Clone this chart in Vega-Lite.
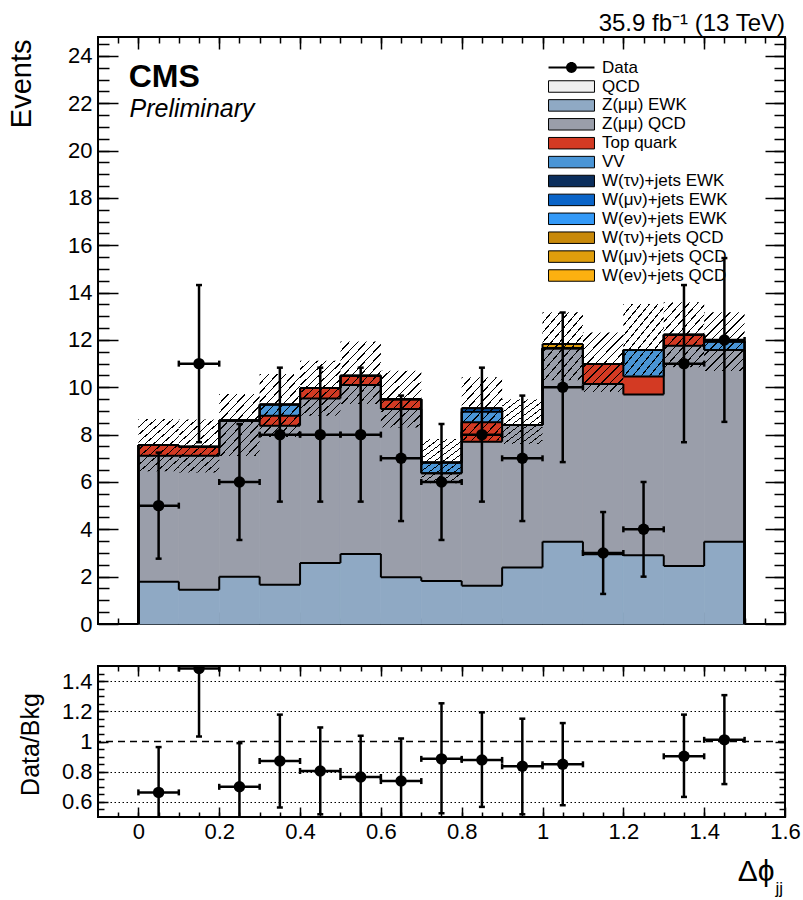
{
  "$schema": "https://vega.github.io/schema/vega-lite/v6.json",
  "background": "white",
  "padding": {"left": 6, "top": 11, "right": 0, "bottom": 0},
  "datasets": {
    "stk": [
      {"lo": 0, "hi": 0.1, "Z(μμ) EWK": 1.79, "Z(μμ) QCD": 5.32, "Top quark": 0.45, "VV": 0, "W(μν)+jets EWK": 0, "W(μν)+jets QCD": 0},
      {"lo": 0.1, "hi": 0.2, "Z(μμ) EWK": 1.45, "Z(μμ) QCD": 5.66, "Top quark": 0.38, "VV": 0, "W(μν)+jets EWK": 0, "W(μν)+jets QCD": 0},
      {"lo": 0.2, "hi": 0.3, "Z(μμ) EWK": 2.0, "Z(μμ) QCD": 6.6, "Top quark": 0, "VV": 0, "W(μν)+jets EWK": 0, "W(μν)+jets QCD": 0},
      {"lo": 0.3, "hi": 0.4, "Z(μμ) EWK": 1.66, "Z(μμ) QCD": 6.72, "Top quark": 0.42, "VV": 0.47, "W(μν)+jets EWK": 0, "W(μν)+jets QCD": 0},
      {"lo": 0.4, "hi": 0.5, "Z(μμ) EWK": 2.58, "Z(μμ) QCD": 6.95, "Top quark": 0.44, "VV": 0, "W(μν)+jets EWK": 0, "W(μν)+jets QCD": 0},
      {"lo": 0.5, "hi": 0.6, "Z(μμ) EWK": 2.96, "Z(μμ) QCD": 7.14, "Top quark": 0.39, "VV": 0, "W(μν)+jets EWK": 0, "W(μν)+jets QCD": 0},
      {"lo": 0.6, "hi": 0.7, "Z(μμ) EWK": 1.97, "Z(μμ) QCD": 7.11, "Top quark": 0.42, "VV": 0, "W(μν)+jets EWK": 0, "W(μν)+jets QCD": 0},
      {"lo": 0.7, "hi": 0.8, "Z(μμ) EWK": 1.82, "Z(μμ) QCD": 4.55, "Top quark": 0, "VV": 0.45, "W(μν)+jets EWK": 0, "W(μν)+jets QCD": 0},
      {"lo": 0.8, "hi": 0.9, "Z(μμ) EWK": 1.62, "Z(μμ) QCD": 6.08, "Top quark": 0.82, "VV": 0.45, "W(μν)+jets EWK": 0.14, "W(μν)+jets QCD": 0},
      {"lo": 0.9, "hi": 1.0, "Z(μμ) EWK": 2.39, "Z(μμ) QCD": 6.02, "Top quark": 0, "VV": 0, "W(μν)+jets EWK": 0, "W(μν)+jets QCD": 0},
      {"lo": 1.0, "hi": 1.1, "Z(μμ) EWK": 3.48, "Z(μμ) QCD": 8.17, "Top quark": 0, "VV": 0, "W(μν)+jets EWK": 0, "W(μν)+jets QCD": 0.18},
      {"lo": 1.1, "hi": 1.2, "Z(μμ) EWK": 2.95, "Z(μμ) QCD": 7.19, "Top quark": 0.84, "VV": 0, "W(μν)+jets EWK": 0, "W(μν)+jets QCD": 0},
      {"lo": 1.2, "hi": 1.3, "Z(μμ) EWK": 2.9, "Z(μμ) QCD": 6.8, "Top quark": 0.76, "VV": 1.12, "W(μν)+jets EWK": 0, "W(μν)+jets QCD": 0},
      {"lo": 1.3, "hi": 1.4, "Z(μμ) EWK": 2.45, "Z(μμ) QCD": 9.31, "Top quark": 0.46, "VV": 0, "W(μν)+jets EWK": 0, "W(μν)+jets QCD": 0},
      {"lo": 1.4, "hi": 1.5, "Z(μμ) EWK": 3.48, "Z(μμ) QCD": 8.1, "Top quark": 0, "VV": 0.35, "W(μν)+jets EWK": 0, "W(μν)+jets QCD": 0}
    ],
    "band": [
      {"lo": 0, "hi": 0.1, "elo": 6.45, "ehi": 8.66},
      {"lo": 0.1, "hi": 0.2, "elo": 6.4, "ehi": 8.64},
      {"lo": 0.2, "hi": 0.3, "elo": 7.1, "ehi": 9.72},
      {"lo": 0.3, "hi": 0.4, "elo": 7.9, "ehi": 10.56},
      {"lo": 0.4, "hi": 0.5, "elo": 8.8, "ehi": 11.12},
      {"lo": 0.5, "hi": 0.6, "elo": 9.3, "ehi": 11.93},
      {"lo": 0.6, "hi": 0.7, "elo": 8.3, "ehi": 10.7},
      {"lo": 0.7, "hi": 0.8, "elo": 5.95, "ehi": 7.82},
      {"lo": 0.8, "hi": 0.9, "elo": 7.75, "ehi": 10.42},
      {"lo": 0.9, "hi": 1.0, "elo": 7.6, "ehi": 9.5},
      {"lo": 1.0, "hi": 1.1, "elo": 10.3, "ehi": 13.17},
      {"lo": 1.1, "hi": 1.2, "elo": 9.8, "ehi": 12.32},
      {"lo": 1.2, "hi": 1.3, "elo": 10.5, "ehi": 13.52},
      {"lo": 1.3, "hi": 1.4, "elo": 10.85, "ehi": 13.59},
      {"lo": 1.4, "hi": 1.5, "elo": 10.69, "ehi": 13.17}
    ],
    "obs": [
      {"x": 0.05, "lo": 0, "hi": 0.1, "n": 5, "nlo": 2.76, "nhi": 7.24},
      {"x": 0.15, "lo": 0.1, "hi": 0.2, "n": 11, "nlo": 7.68, "nhi": 14.32},
      {"x": 0.25, "lo": 0.2, "hi": 0.3, "n": 6, "nlo": 3.55, "nhi": 8.45},
      {"x": 0.35, "lo": 0.3, "hi": 0.4, "n": 8, "nlo": 5.17, "nhi": 10.83},
      {"x": 0.45, "lo": 0.4, "hi": 0.5, "n": 8, "nlo": 5.17, "nhi": 10.83},
      {"x": 0.55, "lo": 0.5, "hi": 0.6, "n": 8, "nlo": 5.17, "nhi": 10.83},
      {"x": 0.65, "lo": 0.6, "hi": 0.7, "n": 7, "nlo": 4.35, "nhi": 9.65},
      {"x": 0.75, "lo": 0.7, "hi": 0.8, "n": 6, "nlo": 3.55, "nhi": 8.45},
      {"x": 0.85, "lo": 0.8, "hi": 0.9, "n": 8, "nlo": 5.17, "nhi": 10.83},
      {"x": 0.95, "lo": 0.9, "hi": 1.0, "n": 7, "nlo": 4.35, "nhi": 9.65},
      {"x": 1.05, "lo": 1.0, "hi": 1.1, "n": 10, "nlo": 6.84, "nhi": 13.16},
      {"x": 1.15, "lo": 1.1, "hi": 1.2, "n": 3, "nlo": 1.27, "nhi": 4.73},
      {"x": 1.25, "lo": 1.2, "hi": 1.3, "n": 4, "nlo": 2.0, "nhi": 6.0},
      {"x": 1.35, "lo": 1.3, "hi": 1.4, "n": 11, "nlo": 7.68, "nhi": 14.32},
      {"x": 1.45, "lo": 1.4, "hi": 1.5, "n": 12, "nlo": 8.54, "nhi": 15.46}
    ],
    "ratio": [
      {"x": 0.05, "lo": 0, "hi": 0.1, "r": 0.663, "rlo": 0.363, "rhi": 0.963},
      {"x": 0.15, "lo": 0.1, "hi": 0.2, "r": 1.483, "rlo": 1.033, "rhi": 1.933},
      {"x": 0.25, "lo": 0.2, "hi": 0.3, "r": 0.7, "rlo": 0.41, "rhi": 0.989},
      {"x": 0.35, "lo": 0.3, "hi": 0.4, "r": 0.871, "rlo": 0.563, "rhi": 1.178},
      {"x": 0.45, "lo": 0.4, "hi": 0.5, "r": 0.805, "rlo": 0.518, "rhi": 1.093},
      {"x": 0.55, "lo": 0.5, "hi": 0.6, "r": 0.765, "rlo": 0.48, "rhi": 1.038},
      {"x": 0.65, "lo": 0.6, "hi": 0.7, "r": 0.738, "rlo": 0.456, "rhi": 1.02},
      {"x": 0.75, "lo": 0.7, "hi": 0.8, "r": 0.885, "rlo": 0.525, "rhi": 1.253},
      {"x": 0.85, "lo": 0.8, "hi": 0.9, "r": 0.878, "rlo": 0.567, "rhi": 1.193},
      {"x": 0.95, "lo": 0.9, "hi": 1.0, "r": 0.836, "rlo": 0.518, "rhi": 1.151},
      {"x": 1.05, "lo": 1.0, "hi": 1.1, "r": 0.849, "rlo": 0.578, "rhi": 1.122},
      {"x": 1.35, "lo": 1.3, "hi": 1.4, "r": 0.902, "rlo": 0.633, "rhi": 1.178},
      {"x": 1.45, "lo": 1.4, "hi": 1.5, "r": 1.011, "rlo": 0.718, "rhi": 1.307}
    ]
  },
  "spacing": 28,
  "resolve": {"scale": {"color": "independent", "shape": "independent"}, "legend": {"color": "independent", "shape": "independent"}},
  "vconcat": [
    {
      "width": 687,
      "height": 587,
      "title": {"text": "35.9 fb⁻¹ (13 TeV)", "anchor": "end", "frame": "group", "fontSize": 24, "font": "Liberation Sans", "fontWeight": "normal", "color": "black", "offset": -19, "baseline": "alphabetic"},
      "resolve": {"axis": {"x": "independent", "y": "independent"}},
      "layer": [
        {
          "data": {"name": "stk"},
          "transform": [
            {"fold": ["Z(μμ) EWK", "Z(μμ) QCD", "Top quark", "VV", "W(μν)+jets EWK", "W(μν)+jets QCD"], "as": ["p", "v"]},
            {"stack": "v", "groupby": ["lo"], "as": ["y0", "y1"]}
          ],
          "mark": {"type": "rect", "strokeWidth": 0.8},
          "encoding": {
            "x": {"field": "lo", "type": "quantitative", "scale": {"domain": [-0.1, 1.6], "nice": false, "zero": false},
              "axis": {"orient": "bottom", "values": [0, 0.2, 0.4, 0.6, 0.8, 1, 1.2, 1.4, 1.6], "labels": false, "tickSize": -12, "title": null}},
            "x2": {"field": "hi"},
            "y": {"field": "y0", "type": "quantitative", "scale": {"domain": [0, 24.8], "nice": false, "zero": false},
              "axis": {"orient": "left", "values": [0, 2, 4, 6, 8, 10, 12, 14, 16, 18, 20, 22, 24], "format": "d", "tickSize": -20, "labelPadding": 26, "labelFontSize": 22,
                "title": "Events", "titleFontSize": 29, "titleAngle": 270, "titleAlign": "right", "titleBaseline": "alphabetic", "titleX": -68, "titleY": 2}},
            "y2": {"field": "y1"},
            "color": {
              "field": "p", "type": "nominal",
              "scale": {
                "domain": ["QCD", "Z(μμ) EWK", "Z(μμ) QCD", "Top quark", "VV", "W(τν)+jets EWK", "W(μν)+jets EWK", "W(eν)+jets EWK", "W(τν)+jets QCD", "W(μν)+jets QCD", "W(eν)+jets QCD"],
                "range": ["#f0f0f0", "#8fa9c4", "#9a9eaa", "#d33a23", "#4a95d6", "#0b2e5c", "#0a64c8", "#3399f7", "#c8890a", "#e09e0c", "#fcb010"]
              },
              "legend": {
                "orient": "none", "legendX": 465, "legendY": 41, "direction": "vertical", "columns": 1,
                "title": null, "padding": 0, "labelFont": "Liberation Sans", "labelFontSize": 17, "labelColor": "black",
                "labelOffset": 22, "labelLimit": 400, "symbolSize": 132, "symbolStrokeColor": "black", "symbolStrokeWidth": 1,
                "symbolOpacity": 1, "rowPadding": 0.9, "symbolType": "M-4,-1H4V1H-4Z"
              }
            },
            "stroke": {
              "field": "p", "type": "nominal", "legend": null,
              "scale": {
                "domain": ["QCD", "Z(μμ) EWK", "Z(μμ) QCD", "Top quark", "VV", "W(τν)+jets EWK", "W(μν)+jets EWK", "W(eν)+jets EWK", "W(τν)+jets QCD", "W(μν)+jets QCD", "W(eν)+jets QCD"],
                "range": ["#f0f0f0", "#8fa9c4", "#9a9eaa", "#d33a23", "#4a95d6", "#0b2e5c", "#0a64c8", "#3399f7", "#c8890a", "#e09e0c", "#fcb010"]
              }
            }
          }
        },
        {
          "data": {"name": "stk"},
          "transform": [
            {"fold": ["Z(μμ) EWK", "Z(μμ) QCD", "Top quark", "VV", "W(μν)+jets EWK", "W(μν)+jets QCD"], "as": ["p", "v"]},
            {"stack": "v", "groupby": ["lo"], "as": ["y0", "y1"]}
          ],
          "mark": {"type": "rule", "color": "black", "strokeWidth": 2},
          "encoding": {
            "x": {"field": "lo", "type": "quantitative",
              "axis": {"orient": "bottom", "values": [-0.05, 0, 0.05, 0.1, 0.15, 0.2, 0.25, 0.3, 0.35, 0.4, 0.45, 0.5, 0.55, 0.6, 0.65, 0.7, 0.75, 0.8, 0.85, 0.9, 0.95, 1, 1.05, 1.1, 1.15, 1.2, 1.25, 1.3, 1.35, 1.4, 1.45, 1.5, 1.55], "labels": false, "tickSize": -6, "title": null}},
            "x2": {"field": "hi"},
            "y": {"field": "y1", "type": "quantitative",
              "axis": {"orient": "left", "values": [0.5, 1, 1.5, 2, 2.5, 3, 3.5, 4, 4.5, 5, 5.5, 6, 6.5, 7, 7.5, 8, 8.5, 9, 9.5, 10, 10.5, 11, 11.5, 12, 12.5, 13, 13.5, 14, 14.5, 15, 15.5, 16, 16.5, 17, 17.5, 18, 18.5, 19, 19.5, 20, 20.5, 21, 21.5, 22, 22.5, 23, 23.5, 24, 24.5], "labels": false, "tickSize": -11, "title": null}}
          }
        },
        {
          "data": {"name": "stk"},
          "transform": [
            {"fold": ["Z(μμ) EWK", "Z(μμ) QCD", "Top quark", "VV", "W(μν)+jets EWK", "W(μν)+jets QCD"], "as": ["p", "v"]},
            {"stack": "v", "groupby": ["lo"], "as": ["y0", "y1"]},
            {"window": [{"op": "lag", "field": "y1", "as": "prev"}], "groupby": ["p"], "sort": [{"field": "lo", "order": "ascending"}]},
            {"filter": "datum.prev != null"}
          ],
          "mark": {"type": "rule", "color": "black", "strokeWidth": 2},
          "encoding": {
            "x": {"field": "lo", "type": "quantitative",
              "axis": {"orient": "top", "values": [0, 0.2, 0.4, 0.6, 0.8, 1, 1.2, 1.4, 1.6], "labels": false, "tickSize": -12, "title": null}},
            "y": {"field": "prev", "type": "quantitative",
              "axis": {"orient": "right", "values": [0, 2, 4, 6, 8, 10, 12, 14, 16, 18, 20, 22, 24], "labels": false, "tickSize": -20, "title": null}},
            "y2": {"field": "y1"}
          }
        },
        {
          "data": {"name": "stk"},
          "transform": [
            {"fold": ["Z(μμ) EWK", "Z(μμ) QCD", "Top quark", "VV", "W(μν)+jets EWK", "W(μν)+jets QCD"], "as": ["p", "v"]},
            {"stack": "v", "groupby": ["lo"], "as": ["y0", "y1"]},
            {"filter": "datum.lo == 0"}
          ],
          "mark": {"type": "rule", "color": "black", "strokeWidth": 2},
          "encoding": {
            "x": {"field": "lo", "type": "quantitative",
              "axis": {"orient": "top", "values": [-0.05, 0, 0.05, 0.1, 0.15, 0.2, 0.25, 0.3, 0.35, 0.4, 0.45, 0.5, 0.55, 0.6, 0.65, 0.7, 0.75, 0.8, 0.85, 0.9, 0.95, 1, 1.05, 1.1, 1.15, 1.2, 1.25, 1.3, 1.35, 1.4, 1.45, 1.5, 1.55], "labels": false, "tickSize": -6, "title": null}},
            "y": {"field": "y1", "type": "quantitative",
              "axis": {"orient": "right", "values": [0.5, 1, 1.5, 2, 2.5, 3, 3.5, 4, 4.5, 5, 5.5, 6, 6.5, 7, 7.5, 8, 8.5, 9, 9.5, 10, 10.5, 11, 11.5, 12, 12.5, 13, 13.5, 14, 14.5, 15, 15.5, 16, 16.5, 17, 17.5, 18, 18.5, 19, 19.5, 20, 20.5, 21, 21.5, 22, 22.5, 23, 23.5, 24, 24.5], "labels": false, "tickSize": -11, "title": null}},
            "y2": {"datum": 0}
          }
        },
        {
          "data": {"name": "stk"},
          "transform": [
            {"fold": ["Z(μμ) EWK", "Z(μμ) QCD", "Top quark", "VV", "W(μν)+jets EWK", "W(μν)+jets QCD"], "as": ["p", "v"]},
            {"stack": "v", "groupby": ["lo"], "as": ["y0", "y1"]},
            {"filter": "datum.hi == 1.5"}
          ],
          "mark": {"type": "rule", "color": "black", "strokeWidth": 2},
          "encoding": {
            "x": {"field": "hi", "type": "quantitative", "axis": null},
            "y": {"field": "y1", "type": "quantitative", "axis": null},
            "y2": {"datum": 0}
          }
        },
        {
          "data": {"name": "band"},
          "mark": {
            "type": "rect", "strokeWidth": 0,
            "fill": {
              "gradient": "linear", "x1": 0, "y1": 0, "x2": 1, "y2": 1.45,
              "stops": [
                {"offset": 0, "color": "#000000"}, {"offset": 0.011, "color": "#000000"}, {"offset": 0.011, "color": "rgba(0,0,0,0)"},
                {"offset": 0.0675, "color": "rgba(0,0,0,0)"}, {"offset": 0.0675, "color": "#000000"}, {"offset": 0.0785, "color": "#000000"}, {"offset": 0.0785, "color": "rgba(0,0,0,0)"},
                {"offset": 0.135, "color": "rgba(0,0,0,0)"}, {"offset": 0.135, "color": "#000000"}, {"offset": 0.146, "color": "#000000"}, {"offset": 0.146, "color": "rgba(0,0,0,0)"},
                {"offset": 0.2025, "color": "rgba(0,0,0,0)"}, {"offset": 0.2025, "color": "#000000"}, {"offset": 0.2135, "color": "#000000"}, {"offset": 0.2135, "color": "rgba(0,0,0,0)"},
                {"offset": 0.27, "color": "rgba(0,0,0,0)"}, {"offset": 0.27, "color": "#000000"}, {"offset": 0.281, "color": "#000000"}, {"offset": 0.281, "color": "rgba(0,0,0,0)"},
                {"offset": 0.3375, "color": "rgba(0,0,0,0)"}, {"offset": 0.3375, "color": "#000000"}, {"offset": 0.3485, "color": "#000000"}, {"offset": 0.3485, "color": "rgba(0,0,0,0)"},
                {"offset": 0.405, "color": "rgba(0,0,0,0)"}, {"offset": 0.405, "color": "#000000"}, {"offset": 0.416, "color": "#000000"}, {"offset": 0.416, "color": "rgba(0,0,0,0)"},
                {"offset": 0.4725, "color": "rgba(0,0,0,0)"}, {"offset": 0.4725, "color": "#000000"}, {"offset": 0.4835, "color": "#000000"}, {"offset": 0.4835, "color": "rgba(0,0,0,0)"},
                {"offset": 0.54, "color": "rgba(0,0,0,0)"}, {"offset": 0.54, "color": "#000000"}, {"offset": 0.551, "color": "#000000"}, {"offset": 0.551, "color": "rgba(0,0,0,0)"},
                {"offset": 0.6075, "color": "rgba(0,0,0,0)"}, {"offset": 0.6075, "color": "#000000"}, {"offset": 0.6185, "color": "#000000"}, {"offset": 0.6185, "color": "rgba(0,0,0,0)"},
                {"offset": 0.675, "color": "rgba(0,0,0,0)"}, {"offset": 0.675, "color": "#000000"}, {"offset": 0.686, "color": "#000000"}, {"offset": 0.686, "color": "rgba(0,0,0,0)"},
                {"offset": 0.7425, "color": "rgba(0,0,0,0)"}, {"offset": 0.7425, "color": "#000000"}, {"offset": 0.7535, "color": "#000000"}, {"offset": 0.7535, "color": "rgba(0,0,0,0)"},
                {"offset": 0.81, "color": "rgba(0,0,0,0)"}, {"offset": 0.81, "color": "#000000"}, {"offset": 0.821, "color": "#000000"}, {"offset": 0.821, "color": "rgba(0,0,0,0)"},
                {"offset": 1, "color": "rgba(0,0,0,0)"}
              ]
            }
          },
          "encoding": {
            "x": {"field": "lo", "type": "quantitative", "axis": null},
            "x2": {"field": "hi"},
            "y": {"field": "elo", "type": "quantitative", "axis": null},
            "y2": {"field": "ehi"}
          }
        },
        {
          "data": {"name": "obs"},
          "mark": {"type": "rule", "color": "black", "strokeWidth": 2.5},
          "encoding": {
            "x": {"field": "x", "type": "quantitative", "axis": null},
            "y": {"field": "nlo", "type": "quantitative", "axis": null},
            "y2": {"field": "nhi"}
          }
        },
        {
          "data": {"name": "obs"},
          "mark": {"type": "rule", "color": "black", "strokeWidth": 2.5},
          "encoding": {
            "x": {"field": "lo", "type": "quantitative", "axis": null},
            "x2": {"field": "hi"},
            "y": {"field": "n", "type": "quantitative", "axis": null}
          }
        },
        {
          "data": {"name": "obs"},
          "mark": {"type": "tick", "orient": "horizontal", "size": 6, "thickness": 2.5, "color": "black", "opacity": 1},
          "encoding": {
            "x": {"field": "x", "type": "quantitative", "axis": null},
            "y": {"field": "nhi", "type": "quantitative", "axis": null}
          }
        },
        {
          "data": {"name": "obs"},
          "mark": {"type": "tick", "orient": "horizontal", "size": 6, "thickness": 2.5, "color": "black", "opacity": 1},
          "encoding": {
            "x": {"field": "x", "type": "quantitative", "axis": null},
            "y": {"field": "nlo", "type": "quantitative", "axis": null}
          }
        },
        {
          "data": {"name": "obs"},
          "mark": {"type": "tick", "orient": "vertical", "size": 6, "thickness": 2.5, "color": "black", "opacity": 1},
          "encoding": {
            "x": {"field": "lo", "type": "quantitative", "axis": null},
            "y": {"field": "n", "type": "quantitative", "axis": null}
          }
        },
        {
          "data": {"name": "obs"},
          "mark": {"type": "tick", "orient": "vertical", "size": 6, "thickness": 2.5, "color": "black", "opacity": 1},
          "encoding": {
            "x": {"field": "hi", "type": "quantitative", "axis": null},
            "y": {"field": "n", "type": "quantitative", "axis": null}
          }
        },
        {
          "data": {"name": "obs"},
          "mark": {"type": "point", "filled": true, "size": 130, "color": "black", "opacity": 1},
          "encoding": {
            "x": {"field": "x", "type": "quantitative", "axis": null},
            "y": {"field": "n", "type": "quantitative", "axis": null}
          }
        },
        {
          "data": {"values": [{}]},
          "mark": {"type": "point", "filled": true, "fill": "black", "stroke": "black", "strokeWidth": 0, "opacity": 0},
          "encoding": {
            "x": {"datum": 0.5, "type": "quantitative", "axis": null},
            "y": {"datum": 1, "type": "quantitative", "axis": null},
            "shape": {
              "datum": "Data", "type": "nominal",
              "scale": {"domain": ["Data"], "range": ["M-4,-0.18H-0.88V0.18H-4ZM0.88,-0.18H4V0.18H0.88ZM-0.95,0A0.95,0.95,0,1,1,0.95,0A0.95,0.95,0,1,1,-0.95,0Z"]},
              "legend": {
                "orient": "none", "legendX": 465, "legendY": 22, "direction": "vertical", "title": null, "padding": 0,
                "labelFont": "Liberation Sans", "labelFontSize": 17, "labelColor": "black", "labelOffset": 22,
                "symbolSize": 132, "symbolOpacity": 1, "symbolFillColor": "black", "symbolStrokeColor": "black", "symbolStrokeWidth": 0
              }
            }
          }
        },
        {
          "data": {"values": [{}]},
          "mark": {"type": "text", "text": "CMS", "font": "Liberation Sans", "fontWeight": "bold", "fontSize": 32, "align": "left", "baseline": "alphabetic", "color": "black"},
          "encoding": {
            "x": {"datum": -0.024, "type": "quantitative", "axis": null},
            "y": {"datum": 22.69, "type": "quantitative", "axis": null}
          }
        },
        {
          "data": {"values": [{}]},
          "mark": {"type": "text", "text": "Preliminary", "font": "Liberation Sans", "fontStyle": "italic", "fontSize": 25, "align": "left", "baseline": "alphabetic", "color": "black"},
          "encoding": {
            "x": {"datum": -0.022, "type": "quantitative", "axis": null},
            "y": {"datum": 21.42, "type": "quantitative", "axis": null}
          }
        }
      ]
    },
    {
      "width": 687,
      "height": 151,
      "resolve": {"axis": {"x": "independent", "y": "independent"}},
      "layer": [
        {
          "data": {"values": [{}]},
          "mark": {"type": "rule", "color": "black", "strokeWidth": 1.3, "strokeDash": [7, 5]},
          "encoding": {
            "y": {"datum": 1, "type": "quantitative", "scale": {"domain": [0.5, 1.5], "nice": false, "zero": false},
              "axis": {"orient": "left", "values": [0.6, 0.8, 1.2, 1.4], "grid": true, "gridDash": [1.5, 2.5], "gridColor": "black", "gridWidth": 1, "gridOpacity": 1, "ticks": false, "labels": false, "title": null}}
          }
        },
        {
          "data": {"name": "ratio"},
          "mark": {"type": "rule", "color": "black", "strokeWidth": 2.5, "clip": true},
          "encoding": {
            "x": {"field": "x", "type": "quantitative", "scale": {"domain": [-0.1, 1.6], "nice": false, "zero": false},
              "axis": {"orient": "bottom", "values": [0, 0.2, 0.4, 0.6, 0.8, 1, 1.2, 1.4, 1.6], "format": "~g", "tickSize": -10, "labelPadding": 14, "labelFontSize": 22,
                "title": "Δϕ", "titleFontSize": 30, "titleAlign": "right", "titleBaseline": "alphabetic", "titleX": 676, "titleY": 63}},
            "y": {"field": "rlo", "type": "quantitative",
              "axis": {"orient": "left", "values": [0.6, 0.8, 1, 1.2, 1.4], "format": "~g", "tickSize": -10, "labelPadding": 16, "labelFontSize": 22,
                "title": "Data/Bkg", "titleFontSize": 25, "titleAngle": 270, "titleAlign": "center", "titleBaseline": "alphabetic", "titleX": -60, "titleY": 78}},
            "y2": {"field": "rhi"}
          }
        },
        {
          "data": {"name": "ratio"},
          "mark": {"type": "rule", "color": "black", "strokeWidth": 2.5, "clip": true},
          "encoding": {
            "x": {"field": "lo", "type": "quantitative",
              "axis": {"orient": "bottom", "values": [-0.05, 0, 0.05, 0.1, 0.15, 0.2, 0.25, 0.3, 0.35, 0.4, 0.45, 0.5, 0.55, 0.6, 0.65, 0.7, 0.75, 0.8, 0.85, 0.9, 0.95, 1, 1.05, 1.1, 1.15, 1.2, 1.25, 1.3, 1.35, 1.4, 1.45, 1.5, 1.55], "labels": false, "tickSize": -5,
                "title": "jj", "titleFontSize": 17, "titleAlign": "left", "titleBaseline": "alphabetic", "titleX": 677, "titleY": 76}},
            "x2": {"field": "hi"},
            "y": {"field": "r", "type": "quantitative",
              "axis": {"orient": "left", "values": [0.55, 0.6, 0.65, 0.7, 0.75, 0.8, 0.85, 0.9, 0.95, 1, 1.05, 1.1, 1.15, 1.2, 1.25, 1.3, 1.35, 1.4, 1.45], "labels": false, "tickSize": -6, "title": null}}
          }
        },
        {
          "data": {"name": "ratio"},
          "mark": {"type": "tick", "orient": "horizontal", "size": 6, "thickness": 2.5, "color": "black", "opacity": 1, "clip": true},
          "encoding": {
            "x": {"field": "x", "type": "quantitative",
              "axis": {"orient": "top", "values": [0, 0.2, 0.4, 0.6, 0.8, 1, 1.2, 1.4, 1.6], "labels": false, "tickSize": -10, "title": null}},
            "y": {"field": "rhi", "type": "quantitative",
              "axis": {"orient": "right", "values": [0.6, 0.8, 1, 1.2, 1.4], "labels": false, "tickSize": -10, "title": null}}
          }
        },
        {
          "data": {"name": "ratio"},
          "mark": {"type": "tick", "orient": "horizontal", "size": 6, "thickness": 2.5, "color": "black", "opacity": 1, "clip": true},
          "encoding": {
            "x": {"field": "x", "type": "quantitative",
              "axis": {"orient": "top", "values": [-0.05, 0, 0.05, 0.1, 0.15, 0.2, 0.25, 0.3, 0.35, 0.4, 0.45, 0.5, 0.55, 0.6, 0.65, 0.7, 0.75, 0.8, 0.85, 0.9, 0.95, 1, 1.05, 1.1, 1.15, 1.2, 1.25, 1.3, 1.35, 1.4, 1.45, 1.5, 1.55], "labels": false, "tickSize": -5, "title": null}},
            "y": {"field": "rlo", "type": "quantitative",
              "axis": {"orient": "right", "values": [0.55, 0.6, 0.65, 0.7, 0.75, 0.8, 0.85, 0.9, 0.95, 1, 1.05, 1.1, 1.15, 1.2, 1.25, 1.3, 1.35, 1.4, 1.45], "labels": false, "tickSize": -6, "title": null}}
          }
        },
        {
          "data": {"name": "ratio"},
          "mark": {"type": "tick", "orient": "vertical", "size": 6, "thickness": 2.5, "color": "black", "opacity": 1, "clip": true},
          "encoding": {
            "x": {"field": "lo", "type": "quantitative", "axis": null},
            "y": {"field": "r", "type": "quantitative", "axis": null}
          }
        },
        {
          "data": {"name": "ratio"},
          "mark": {"type": "tick", "orient": "vertical", "size": 6, "thickness": 2.5, "color": "black", "opacity": 1, "clip": true},
          "encoding": {
            "x": {"field": "hi", "type": "quantitative", "axis": null},
            "y": {"field": "r", "type": "quantitative", "axis": null}
          }
        },
        {
          "data": {"name": "ratio"},
          "mark": {"type": "point", "filled": true, "size": 130, "color": "black", "opacity": 1, "clip": true},
          "encoding": {
            "x": {"field": "x", "type": "quantitative", "axis": null},
            "y": {"field": "r", "type": "quantitative", "axis": null}
          }
        }
      ]
    }
  ],
  "config": {
    "font": "Liberation Sans",
    "view": {"stroke": "black", "strokeWidth": 2},
    "axis": {"domain": false, "grid": false, "tickColor": "black", "tickWidth": 1.5, "tickOpacity": 1, "labelColor": "black", "labelFont": "Liberation Sans", "labelFontSize": 22, "titleColor": "black", "titleFont": "Liberation Sans", "titleFontWeight": "normal", "labelOverlap": false, "labelFlush": false}
  }
}
